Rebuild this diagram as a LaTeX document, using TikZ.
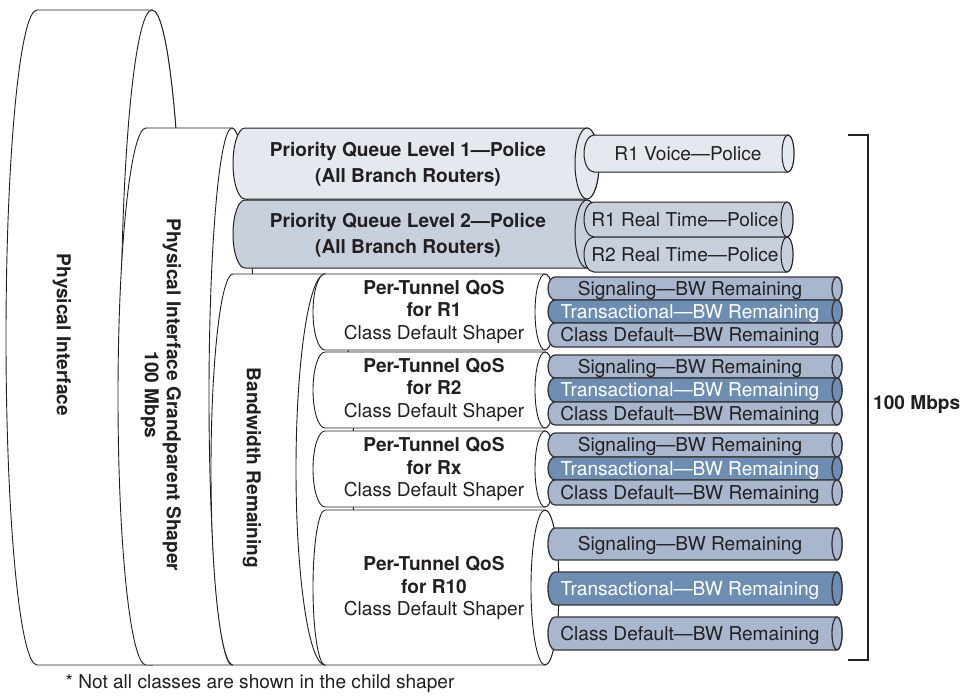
\documentclass[tikz,border=0pt]{standalone}
\usepackage{fontspec}
\setmainfont{TeX Gyre Heros}
\usetikzlibrary{positioning}

\definecolor{ink}{HTML}{231F20}
\definecolor{pqlight}{HTML}{E4E8EF}
\definecolor{pqdark}{HTML}{C9D0DD}
\definecolor{bwlight}{HTML}{A8B7CD}
\definecolor{bwdark}{HTML}{6D8DB2}

% lying tube: style, left x, left rx, right x, right rx, top y, bottom y (y counted downwards)
\newcommand{\tube}[7]{%
  \path[#1] (#2,-#6) -- (#4,-#6)
    arc[start angle=90, end angle=-90, x radius=#5, y radius={(#7-#6)/2}]
    -- (#2,-#7)
    arc[start angle=270, end angle=90, x radius=#3, y radius={(#7-#6)/2}] -- cycle;
  \path[#1] (#4,{-(#6+#7)/2}) ellipse[x radius=#5, y radius={(#7-#6)/2}];
}

\begin{document}
\begin{tikzpicture}[
    x=1pt, y=1pt,
    shell/.style={draw=ink, line width=0.9pt, fill=white},
    pqa/.style={draw=ink, line width=1pt, fill=pqlight},
    pqb/.style={draw=ink, line width=1pt, fill=pqdark},
    cls/.style={draw=ink!90, line width=1.3pt, fill=bwlight},
    trx/.style={draw=ink!90, line width=1.3pt, fill=bwdark},
    lbl/.style={text=ink, font=\fontsize{19.1}{22.5}\selectfont, align=center, inner sep=0pt},
    hdr/.style={lbl, font=\fontsize{19.1}{26}\selectfont\bfseries},
    tag/.style={lbl, anchor=base},
    wtag/.style={tag, text=white}
  ]
  \useasboundingbox (0,0) rectangle (969,-696);

  % physical interface, grandparent shaper, bandwidth remaining
  \tube{shell}{37}{31}{152}{31}{10}{665}
  \tube{shell}{146}{28}{232}{23}{128}{665}
  \tube{shell}{233}{22}{325}{29}{274}{665}

  % priority queues and their policers
  \tube{pqa}{245}{12}{587}{12}{128}{199}
  \tube{pqb}{245}{12}{587}{12}{200}{268}
  \tube{pqa}{594}{10}{788}{6}{135}{172}
  \tube{pqb}{594}{10}{787}{6}{202}{237}
  \tube{pqb}{594}{10}{787}{6}{237}{272}

  % per-tunnel shapers
  \tube{shell}{325}{12}{545}{10}{274}{350}
  \tube{shell}{325}{12}{545}{10}{352}{428}
  \tube{shell}{325}{12}{545}{10}{431}{507}
  \tube{shell}{325}{12}{545}{14}{510}{665}

  % child classes
  \tube{cls}{555}{7}{837}{5}{277}{300}
  \tube{trx}{555}{7}{837}{5}{300}{323}
  \tube{cls}{555}{7}{837}{5}{323}{347}
  \tube{cls}{555}{7}{837}{5}{355}{378}
  \tube{trx}{555}{7}{837}{5}{378}{402}
  \tube{cls}{555}{7}{837}{5}{402}{425}
  \tube{cls}{555}{7}{837}{5}{433}{457}
  \tube{trx}{555}{7}{837}{5}{457}{480}
  \tube{cls}{555}{7}{837}{5}{480}{505}
  \tube{cls}{555}{7}{837}{5}{528}{560}
  \tube{trx}{555}{7}{837}{5}{572}{605}
  \tube{cls}{555}{7}{837}{5}{617}{650}

  % labels
  \node[hdr, rotate=-90] (phys) at (62,-335) {Physical Interface};
  \node[hdr, rotate=-90, font=\fontsize{19.1}{22}\selectfont\bfseries] (gps) at (161,-395)
    {Physical Interface Grandparent Shaper\\100 Mbps};
  \node[hdr, rotate=-90] (bwr) at (252,-468) {Bandwidth Remaining};
  \node[hdr] (pq1) at (408,-164) {Priority Queue Level 1—Police\\(All Branch Routers)};
  \node[hdr] (pq2) at (408,-235) {Priority Queue Level 2—Police\\(All Branch Routers)};
  \node[tag] (voice) at (688,-160) {R1 Voice—Police};
  \node[tag] (rt1) at (685,-226) {R1 Real Time—Police};
  \node[tag] (rt2) at (685,-261) {R2 Real Time—Police};

  \node[lbl] (ptr1) at (434,-312) {\textbf{Per-Tunnel QoS}\\\textbf{for R1}\\Class Default Shaper};
  \node[lbl] (ptr2) at (434,-390) {\textbf{Per-Tunnel QoS}\\\textbf{for R2}\\Class Default Shaper};
  \node[lbl] (ptrx) at (434,-469) {\textbf{Per-Tunnel QoS}\\\textbf{for Rx}\\Class Default Shaper};
  \node[lbl] (ptr10) at (434,-588) {\textbf{Per-Tunnel QoS}\\\textbf{for R10}\\Class Default Shaper};

  \node[tag] (sig1) at (690,-295) {Signaling—BW Remaining};
  \node[wtag] (trx1) at (690,-318) {Transactional—BW Remaining};
  \node[tag] (def1) at (690,-341.5) {Class Default—BW Remaining};
  \node[tag] (sig2) at (690,-373) {Signaling—BW Remaining};
  \node[wtag] (trx2) at (690,-396.5) {Transactional—BW Remaining};
  \node[tag] (def2) at (690,-420) {Class Default—BW Remaining};
  \node[tag] (sigx) at (690,-451.5) {Signaling—BW Remaining};
  \node[wtag] (trxx) at (690,-475) {Transactional—BW Remaining};
  \node[tag] (defx) at (690,-499) {Class Default—BW Remaining};
  \node[tag] (sig10) at (690,-550.5) {Signaling—BW Remaining};
  \node[wtag] (trx10) at (690,-595) {Transactional—BW Remaining};
  \node[tag] (def10) at (690,-640) {Class Default—BW Remaining};

  % 100 Mbps bracket
  \coordinate (brtop) at (848,-135);
  \coordinate (brbot) at (848,-660);
  \coordinate (brmid) at (868,-405);
  \draw[ink, line width=2.5pt] (brtop) -- ++(20,0) |- (brbot);
  \node[hdr, anchor=west, right=5pt of brmid] (mbps) {100 Mbps};

  \node[tag] (note) at (260,-688) {* Not all classes are shown in the child shaper};
\end{tikzpicture}
\end{document}
